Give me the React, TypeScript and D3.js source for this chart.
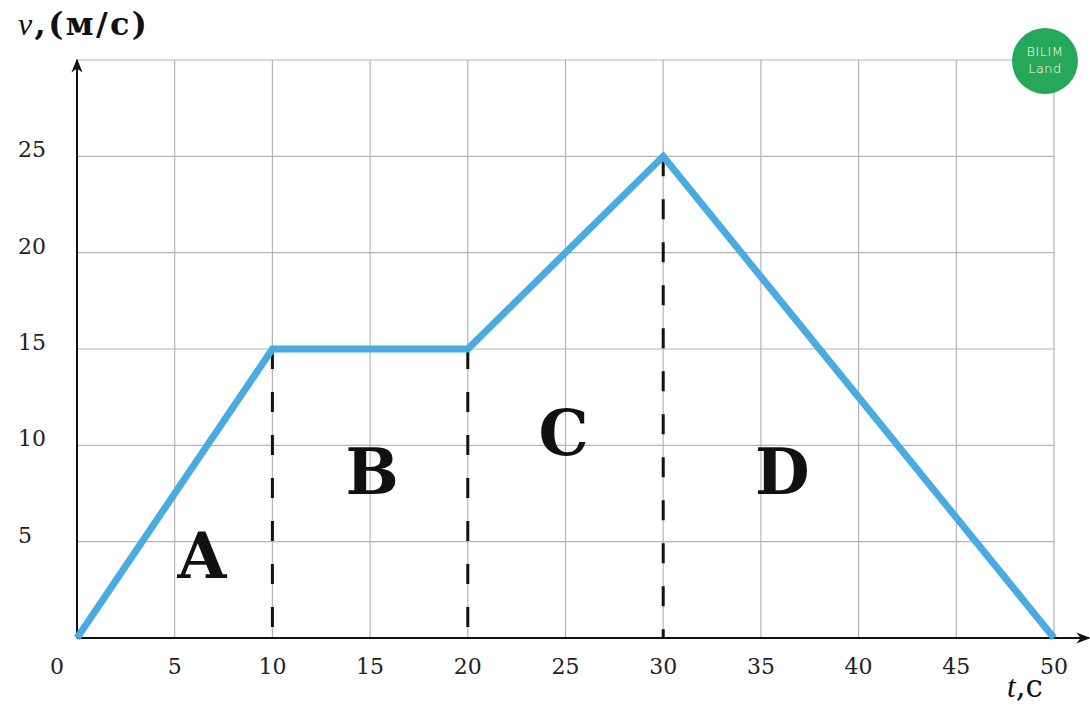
import React from "react";
import * as d3 from "d3";

// graph of speed vs time
const times = [0, 10, 20, 30, 50];
const speeds = [0, 15, 15, 25, 0];
const dropTimes = [10, 20, 30];

const xTicks = [5, 10, 15, 20, 25, 30, 35, 40, 45, 50];
const yTicks = [5, 10, 15, 20, 25];
const gridX = [0, 5, 10, 15, 20, 25, 30, 35, 40, 45, 50];
const gridY = [0, 5, 10, 15, 20, 25, 30];

const regions = ["A", "B", "C", "D"];
const regionT = [6.4, 15.1, 24.9, 36.1];
const regionV = [3.1, 7.5, 9.5, 7.5];

const W = 1090;
const H = 705;

const App = () => {
  const x = d3.scaleLinear().domain([0, 50]).range([77, 1054]);
  const y = d3.scaleLinear().domain([0, 30]).range([638, 60]);

  const pts = times.map((t, i) => [t, speeds[i]] as [number, number]);
  const path = d3
    .line<[number, number]>()
    .x((d) => x(d[0]))
    .y((d) => y(d[1]))(pts);

  const speedAt = (t: number) => speeds[times.indexOf(t)];

  return (
    <svg
      width={W}
      height={H}
      style={{ position: "absolute", left: 0, top: 0, background: "#fff" }}
      fontFamily="DejaVu Serif"
    >
      <defs>
        <marker
          id="arr"
          viewBox="0 0 10 10"
          refX="9"
          refY="5"
          markerWidth="7"
          markerHeight="7"
          orient="auto"
        >
          <path d="M0,1 L10,5 L0,9 L3,5 z" fill="#111" />
        </marker>
      </defs>

      {/* grid */}
      <g stroke="#b5b5b5" strokeWidth={1.2}>
        {gridX.map((t) => (
          <line key={"gx" + t} x1={x(t)} x2={x(t)} y1={y(30)} y2={y(0)} />
        ))}
        {gridY.map((v) => (
          <line key={"gy" + v} x1={x(0)} x2={x(50)} y1={y(v)} y2={y(v)} />
        ))}
      </g>

      {/* dashed drops */}
      <g stroke="#111" strokeWidth={3} strokeDasharray="20 23">
        {dropTimes.map((t) => (
          <line key={"d" + t} x1={x(t)} x2={x(t)} y1={y(speedAt(t))} y2={y(0)} />
        ))}
      </g>

      {/* axes */}
      <line x1={x(0)} x2={W - 1} y1={y(0)} y2={y(0)} stroke="#111" strokeWidth={2} markerEnd="url(#arr)" />
      <line x1={x(0)} x2={x(0)} y1={y(0)} y2={y(30)} stroke="#111" strokeWidth={2} markerEnd="url(#arr)" />

      {/* speed line */}
      <path d={path ?? ""} fill="none" stroke="#4aabe0" strokeWidth={7} strokeLinejoin="miter" />

      {/* tick labels */}
      <g fontSize={22} fill="#222">
        {xTicks.map((t) => (
          <text key={"xt" + t} x={x(t)} y={y(0) + 36} textAnchor="middle">
            {t}
          </text>
        ))}
        <text x={x(0) - 20} y={y(0) + 36} textAnchor="middle">
          0
        </text>
        {yTicks.map((v) => (
          <text key={"yt" + v} x={18} y={y(v) + 1}>
            {v}
          </text>
        ))}
      </g>

      {/* region letters */}
      <g fontSize={63} fontWeight="bold" fill="#111" textAnchor="middle">
        {regions.map((r, i) => (
          <text key={r} x={x(regionT[i])} y={y(regionV[i])}>
            {r}
          </text>
        ))}
      </g>

      {/* axis titles */}
      <text x={18} y={35} fontSize={32} fill="#111" fontWeight={600} textLength={129} lengthAdjust="spacing">
        <tspan fontStyle="italic" fontFamily="Liberation Serif" fontWeight="normal">v</tspan>,(м/с)
      </text>
      <text x={1007} y={697} fontSize={31} fill="#111">
        <tspan fontStyle="italic" fontFamily="Liberation Serif">t</tspan>,с
      </text>

      {/* logo */}
      <g>
        <circle cx={1045} cy={61} r={33} fill="#25a85a" />
        <text x={1045} y={56} textAnchor="middle" fontFamily="DejaVu Sans" fontSize={13} fontWeight={300} fill="#fff" letterSpacing={0.5}>
          BILIM
        </text>
        <text x={1045} y={73} textAnchor="middle" fontFamily="DejaVu Sans" fontSize={13} fontWeight={300} fill="#fff" letterSpacing={0.5}>
          Land
        </text>
      </g>
    </svg>
  );
};

export default App;
